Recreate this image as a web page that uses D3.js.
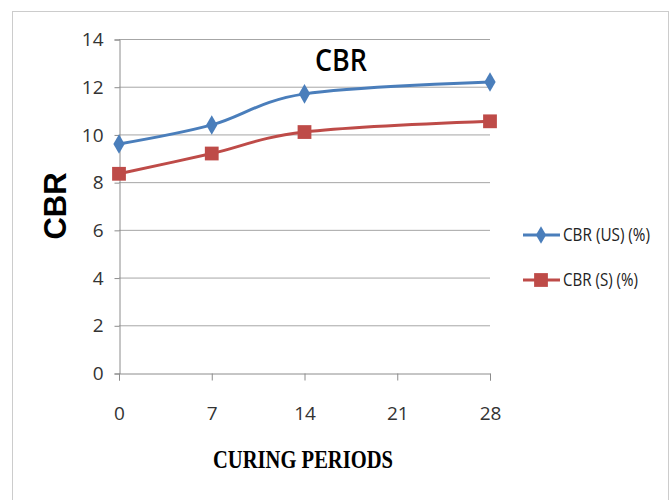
<!DOCTYPE html>
<html>
<head>
<meta charset="utf-8">
<script src="https://cdn.jsdelivr.net/npm/d3@7"></script>
<style>
body { margin: 0; background: #fff; }
text { font-family: "Open Sans", sans-serif; }
</style>
</head>
<body>
<script>
var periods = [0, 7, 14, 28];
var cbrUS = [9.6, 10.4, 11.7, 12.2];
var cbrS = [8.35, 9.2, 10.1, 10.55];
var xTicks = [0, 7, 14, 21, 28];
var yTicks = [0, 2, 4, 6, 8, 10, 12, 14];
var seriesNames = ["CBR (US) (%)", "CBR (S) (%)"];

var width = 672, height = 500;
var svg = d3.select("body").append("svg")
  .attr("width", width)
  .attr("height", height);

// chart border (dotted)
svg.append("rect")
  .attr("x", 12.5).attr("y", 11.5)
  .attr("width", 656).attr("height", 500)
  .attr("fill", "none")
  .attr("stroke", "#999")
  .attr("stroke-dasharray", "1,1");

var x = d3.scaleLinear().domain([0, 28]).range([119, 490]);
var y = d3.scaleLinear().domain([0, 14]).range([373, 39]);

// gridlines
svg.append("g")
  .selectAll("line")
  .data(yTicks.slice(1))
  .enter().append("line")
  .attr("x1", x(0)).attr("x2", x(28))
  .attr("y1", function(d) { return y(d) + 0.5; })
  .attr("y2", function(d) { return y(d) + 0.5; })
  .attr("stroke", "#a6a6a6");

var yAxis = svg.append("g")
  .attr("transform", "translate(" + (x(0) + 0.5) + ",0.5)")
  .call(d3.axisLeft(y).tickValues(yTicks).tickSize(5).tickPadding(11));

var xAxis = svg.append("g")
  .attr("transform", "translate(0," + (y(0) + 0.5) + ")")
  .call(d3.axisBottom(x).tickValues(xTicks).tickSize(7).tickPadding(26));

[yAxis, xAxis].forEach(function(g) {
  g.select(".domain").attr("stroke", "#8c8c8c");
  g.selectAll(".tick line").attr("stroke", "#8c8c8c");
  g.selectAll(".tick text")
    .attr("fill", "#333")
    .style("font-size", "19px")
    .style("font-family", "'Open Sans', sans-serif");
});
xAxis.selectAll(".tick").filter(function(d) { return d == 0; }).select("line").attr("y1", 0);

var line = d3.line()
  .x(function(d) { return x(d[0]); })
  .y(function(d) { return y(d[1]); })
  .curve(d3.curveCardinal);

var colors = ["#4a7ebb", "#be4b48"];
var all = [cbrUS, cbrS];

all.forEach(function(vals, i) {
  var pts = periods.map(function(p, j) { return [p, vals[j]]; });
  svg.append("path")
    .attr("d", line(pts))
    .attr("fill", "none")
    .attr("stroke", colors[i])
    .attr("stroke-width", 3);
  var sym = i == 0 ? d3.symbol().type(d3.symbolDiamond).size(110)
                   : d3.symbol().type(d3.symbolSquare).size(190);
  svg.append("g").selectAll("path")
    .data(pts)
    .enter().append("path")
    .attr("d", sym)
    .attr("transform", function(d) { return "translate(" + x(d[0]) + "," + y(d[1]) + ")"; })
    .attr("fill", colors[i]);
});

// legend
var legend = svg.append("g");
seriesNames.forEach(function(name, i) {
  var ly = 235 + i * 45;
  legend.append("line")
    .attr("x1", 523).attr("x2", 560)
    .attr("y1", ly).attr("y2", ly)
    .attr("stroke", colors[i]).attr("stroke-width", 3);
  var sym = i == 0 ? d3.symbol().type(d3.symbolDiamond).size(90)
                   : d3.symbol().type(d3.symbolSquare).size(190);
  legend.append("path")
    .attr("d", sym)
    .attr("transform", "translate(541," + ly + ")")
    .attr("fill", colors[i]);
  legend.append("text")
    .attr("x", 563).attr("y", ly + 6)
    .attr("fill", "#222")
    .attr("textLength", i == 0 ? 87 : 75)
    .attr("lengthAdjust", "spacingAndGlyphs")
    .style("font-size", "18px")
    .text(name);
});

// title
svg.append("text")
  .attr("x", 341).attr("y", 71)
  .attr("text-anchor", "middle")
  .attr("textLength", 52)
  .attr("lengthAdjust", "spacingAndGlyphs")
  .style("font-size", "30px")
  .style("font-weight", "600")
  .text("CBR");

// y axis label
svg.append("text")
  .attr("transform", "translate(66,206) rotate(-90)")
  .attr("text-anchor", "middle")
  .style("font-family", "'Liberation Sans', Arial, sans-serif")
  .style("font-size", "31px")
  .style("font-weight", "bold")
  .text("CBR");

// x axis label
svg.append("text")
  .attr("x", 303).attr("y", 468)
  .attr("text-anchor", "middle")
  .attr("textLength", 180)
  .attr("lengthAdjust", "spacingAndGlyphs")
  .style("font-family", "'Liberation Serif', 'Times New Roman', serif")
  .style("font-size", "25px")
  .style("font-weight", "bold")
  .text("CURING PERIODS");
</script>
</body>
</html>
